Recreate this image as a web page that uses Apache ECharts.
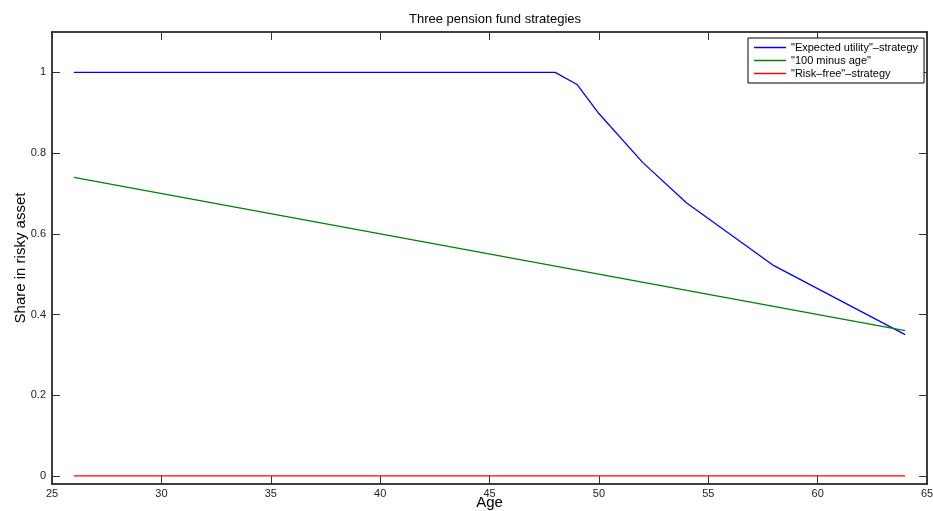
<!DOCTYPE html>
<html>
<head>
<meta charset="utf-8">
<script src="https://cdn.jsdelivr.net/npm/echarts@6/dist/echarts.min.js"></script>
<style>
  html, body { margin: 0; padding: 0; background: #fff; }
  #chart { width: 933px; height: 511px; }
</style>
</head>
<body>
<div id="chart"></div>
<script>
// Expected-utility strategy: share in risky asset by age (break points)
const utilityAges  = [26, 48, 49, 50, 52, 54, 58, 64];
const utilityShare = [1, 1, 0.97, 0.898, 0.777, 0.677, 0.521, 0.35];

// "100 minus age" rule
const ruleAges  = [26, 64];
const ruleShare = [0.74, 0.36];

// Risk-free strategy
const safeAges  = [26, 64];
const safeShare = [0, 0];

// Tick labels
const yTicks = [0, 0.2, 0.4, 0.6, 0.8, 1];

const seriesNames = ['"Expected utility"\u2013strategy', '"100 minus age"', '"Risk\u2013free"\u2013strategy'];

const pairs = (xs, ys) => xs.map((x, i) => [x, ys[i]]);

const FONT = '"Liberation Sans", Arial, Helvetica, sans-serif';
const lineAxis = { show: true, onZero: false, lineStyle: { color: '#000', width: 1.5 } };
const tickStyle = { lineStyle: { color: '#333', width: 1 } };

const chart = echarts.init(document.getElementById('chart'), null, { renderer: 'canvas' });
chart.setOption({
  animation: false,
  backgroundColor: '#fff',
  title: {
    text: 'Three pension fund strategies',
    left: 490, top: 8, textAlign: 'center',
    textStyle: { fontFamily: FONT, fontSize: 13, fontWeight: 'normal', color: '#000' }
  },
  grid: { left: 52, right: 6, top: 32, bottom: 27, containLabel: false, outerBoundsMode: 'none' },
  legend: {
    orient: 'vertical', left: 748, top: 38,
    padding: [4, 6, 4, 6], itemGap: 2,
    itemWidth: 32, itemHeight: 1.5, icon: 'rect',
    borderColor: '#000', borderWidth: 1, backgroundColor: '#fff',
    textStyle: { fontFamily: FONT, fontSize: 11, color: '#000' },
    data: seriesNames
  },
  xAxis: [
    {
      type: 'value', position: 'bottom', min: 25, max: 65, interval: 5,
      axisLine: lineAxis,
      axisTick: Object.assign({ inside: true, length: 8 }, tickStyle),
      axisLabel: { fontFamily: FONT, fontSize: 11, color: '#222', margin: 4 },
      splitLine: { show: false },
      name: 'Age', nameLocation: 'middle', nameGap: 11, nameMoveOverlap: false,
      nameTextStyle: { fontFamily: FONT, fontSize: 15, color: '#000' }
    },
    {
      type: 'value', position: 'top', min: 25, max: 65, interval: 5,
      axisLine: lineAxis,
      axisTick: Object.assign({ inside: true, length: 8 }, tickStyle),
      axisLabel: { show: false },
      splitLine: { show: false }
    }
  ],
  yAxis: [
    {
      type: 'value', position: 'left', min: -0.02, max: 1.1,
      axisLine: lineAxis,
      axisTick: Object.assign({ inside: true, length: 8, customValues: yTicks }, tickStyle),
      axisLabel: { fontFamily: FONT, fontSize: 11, color: '#222', margin: 6, customValues: yTicks },
      splitLine: { show: false },
      name: 'Share in risky asset', nameLocation: 'middle', nameGap: 24, nameRotate: 90,
      nameMoveOverlap: false,
      nameTextStyle: { fontFamily: FONT, fontSize: 15, color: '#000' }
    },
    {
      type: 'value', position: 'right', min: -0.02, max: 1.1,
      axisLine: lineAxis,
      axisTick: Object.assign({ inside: true, length: 8, customValues: yTicks }, tickStyle),
      axisLabel: { show: false },
      splitLine: { show: false }
    }
  ],
  series: [
    {
      name: seriesNames[0], type: 'line', data: pairs(utilityAges, utilityShare),
      showSymbol: false, color: '#0000ff', lineStyle: { color: '#0000ff', width: 1.3 }
    },
    {
      name: seriesNames[1], type: 'line', data: pairs(ruleAges, ruleShare),
      showSymbol: false, color: '#008000', lineStyle: { color: '#008000', width: 1.3 }
    },
    {
      name: seriesNames[2], type: 'line', data: pairs(safeAges, safeShare),
      showSymbol: false, color: '#ff0000', lineStyle: { color: '#ff0000', width: 1.3 }
    }
  ]
});
</script>
</body>
</html>
